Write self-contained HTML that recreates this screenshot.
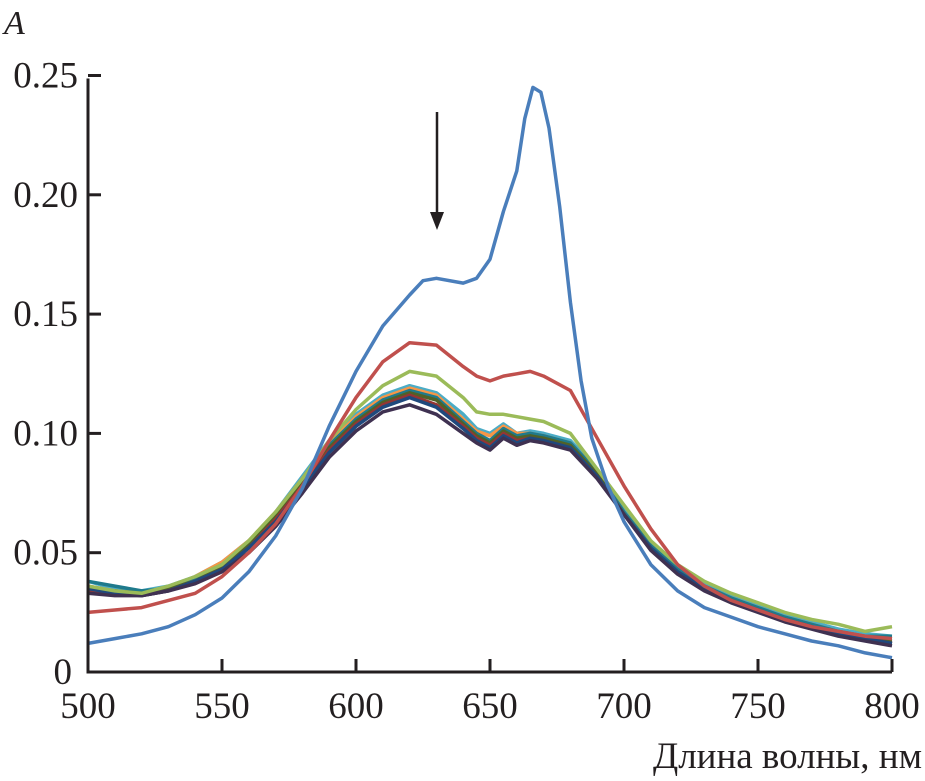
<!DOCTYPE html>
<html><head><meta charset="utf-8"><style>
body{margin:0;background:#fff;}
svg{display:block;font-family:"Liberation Serif",serif;}
</style></head><body>
<svg id="chart" width="925" height="781"></svg>
<script>
const wl=[500,510,520,530,540,550,560,570,580,590,600,610,620,630,640,645,650,655,660,665,670,680,690,700,710,720,730,740,750,760,770,780,790,800];
const wlBlue=[500,510,520,530,540,550,560,570,580,590,600,610,620,625,630,640,645,650,655,660,663,666,669,672,676,680,684,688,694,700,710,720,730,740,750,760,770,780,790,800];
const sBlue=[0.012,0.014,0.016,0.019,0.024,0.031,0.042,0.057,0.077,0.103,0.126,0.145,0.158,0.164,0.165,0.163,0.165,0.173,0.193,0.210,0.232,0.245,0.243,0.228,0.195,0.155,0.122,0.098,0.078,0.063,0.045,0.034,0.027,0.023,0.019,0.016,0.013,0.011,0.008,0.006];
const sRed=[0.025,0.026,0.027,0.030,0.033,0.040,0.050,0.062,0.078,0.097,0.115,0.130,0.138,0.137,0.128,0.124,0.122,0.124,0.125,0.126,0.124,0.118,0.098,0.078,0.060,0.045,0.036,0.030,0.026,0.022,0.019,0.017,0.015,0.014];
const sGreen=[0.036,0.034,0.033,0.036,0.040,0.045,0.055,0.067,0.081,0.097,0.110,0.120,0.126,0.124,0.115,0.109,0.108,0.108,0.107,0.106,0.105,0.100,0.085,0.070,0.055,0.045,0.038,0.033,0.029,0.025,0.022,0.020,0.017,0.019];
const sCyan=[0.038,0.035,0.034,0.036,0.040,0.046,0.055,0.067,0.082,0.097,0.108,0.116,0.120,0.117,0.108,0.102,0.100,0.104,0.100,0.101,0.100,0.097,0.085,0.068,0.054,0.044,0.037,0.032,0.028,0.024,0.021,0.018,0.016,0.015];
const sOrange=[0.036,0.034,0.033,0.035,0.040,0.046,0.055,0.067,0.081,0.096,0.107,0.115,0.119,0.116,0.106,0.101,0.099,0.103,0.100,0.100,0.099,0.096,0.084,0.067,0.053,0.043,0.036,0.031,0.027,0.023,0.020,0.017,0.015,0.014];
const sTeal=[0.038,0.036,0.034,0.035,0.039,0.045,0.054,0.066,0.080,0.095,0.106,0.114,0.118,0.115,0.105,0.100,0.097,0.102,0.099,0.100,0.099,0.096,0.084,0.067,0.053,0.043,0.036,0.031,0.027,0.023,0.020,0.017,0.015,0.015];
const sOlive=[0.035,0.034,0.033,0.035,0.038,0.044,0.053,0.065,0.079,0.094,0.105,0.113,0.117,0.114,0.104,0.099,0.096,0.101,0.098,0.099,0.098,0.095,0.083,0.066,0.052,0.042,0.035,0.030,0.026,0.022,0.019,0.016,0.014,0.013];
const sDarkRed=[0.034,0.033,0.032,0.034,0.038,0.043,0.052,0.064,0.078,0.093,0.104,0.112,0.116,0.112,0.103,0.098,0.095,0.100,0.097,0.098,0.097,0.094,0.082,0.066,0.052,0.042,0.035,0.030,0.026,0.022,0.019,0.016,0.014,0.012];
const sNavy=[0.035,0.033,0.032,0.034,0.038,0.043,0.052,0.063,0.077,0.092,0.103,0.111,0.115,0.111,0.102,0.097,0.094,0.099,0.096,0.098,0.097,0.094,0.082,0.066,0.052,0.042,0.035,0.030,0.026,0.022,0.019,0.016,0.014,0.012];
const sPurple=[0.033,0.032,0.032,0.034,0.037,0.042,0.050,0.061,0.075,0.090,0.101,0.109,0.112,0.108,0.100,0.096,0.093,0.098,0.095,0.097,0.096,0.093,0.081,0.066,0.051,0.041,0.034,0.029,0.025,0.021,0.018,0.015,0.013,0.011];
const xTicks=[500,550,600,650,700,750,800];
const yTicks=[0,0.05,0.10,0.15,0.20,0.25];
const yLabels=["0","0.05","0.10","0.15","0.20","0.25"];

const X0=88,X1=892,Y0=672,Y1=75.5;
const xs=v=>X0+(v-500)/300*(X1-X0);
const ys=v=>Y0-v/0.25*(Y0-Y1);
const NS="http://www.w3.org/2000/svg";
const svg=document.getElementById('chart');
function mk(t,a){const e=document.createElementNS(NS,t);for(const k in a)e.setAttribute(k,a[k]);svg.appendChild(e);return e;}

const series=[
 ['series-cyan',sCyan,'#4bacc6',wl],['series-orange',sOrange,'#f79646',wl],['series-teal',sTeal,'#1f7a8c',wl],
 ['series-olive',sOlive,'#4f6228',wl],['series-dark-red',sDarkRed,'#943634',wl],['series-navy',sNavy,'#1f497d',wl],
 ['series-purple',sPurple,'#3f3151',wl],['series-green',sGreen,'#9bbb59',wl],['series-red',sRed,'#c0504d',wl],['series-blue',sBlue,'#4a7ebb',wlBlue]];
series.forEach(s=>{
 const w=s[3];
 const d=s[1].map((v,i)=>(i?'L':'M')+xs(w[i]).toFixed(1)+','+ys(v).toFixed(1)).join('');
 const p=mk('path',{d:d,fill:'none',stroke:s[2],'stroke-width':3.5,'stroke-linejoin':'round'});
 
 
});

const ax=mk('path',{d:`M${X0},${Y1+3}V${Y0}H${X1}`,fill:'none',stroke:'#231f20','stroke-width':3});


xTicks.forEach(t=>{
 const l=mk('line',{x1:xs(t),x2:xs(t),y1:Y0,y2:Y0-13,stroke:'#231f20','stroke-width':3});
 
 
 const tx=mk('text',{x:xs(t),y:718,'font-size':37,'text-anchor':'middle',fill:'#231f20'});
 tx.textContent=t;
 
 
});
yTicks.forEach((t,i)=>{
 if(i>0){const l=mk('line',{x1:X0,x2:X0+13,y1:ys(t),y2:ys(t),stroke:'#231f20','stroke-width':3});
 
 }
 const tx=mk('text',{x:i==0?72:78,y:ys(t)+12,'font-size':37,'text-anchor':'end',fill:'#231f20'});
 tx.textContent=yLabels[i];
 
 
});
const yt=mk('text',{x:4,y:34,'font-size':34,'font-style':'italic',fill:'#231f20'});
yt.textContent='A';


const xt=mk('text',{x:922,y:768,'font-size':37,'text-anchor':'end',fill:'#231f20'});
xt.textContent='Длина волны, нм';


const ar=mk('line',{x1:437,x2:437,y1:112,y2:215,stroke:'#231f20','stroke-width':2.5});


const ah=mk('path',{d:'M430,212L444,212L437,230Z',fill:'#231f20'});


</script>
</body></html>
